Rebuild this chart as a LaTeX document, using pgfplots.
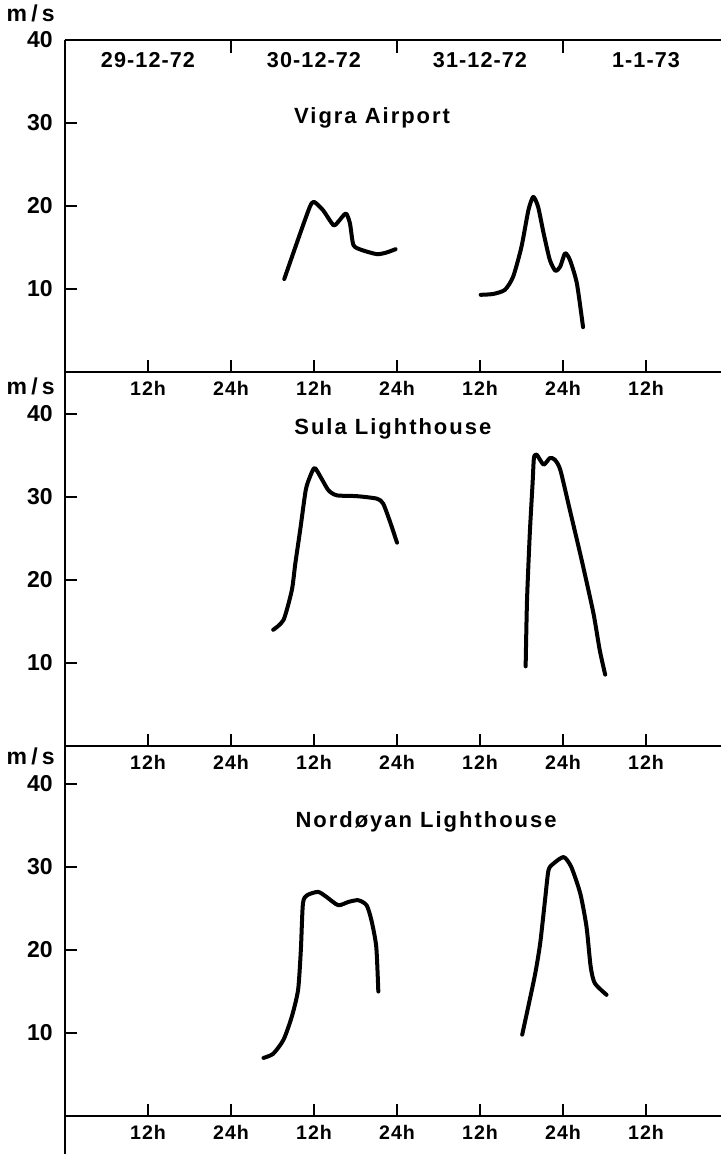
\documentclass[border=0pt]{standalone}
\usepackage{fontspec}
\setmainfont{Liberation Sans}
\newfontfamily\lbl[LetterSpace=9]{Liberation Sans}
\newfontfamily\hlbl[LetterSpace=5]{Liberation Sans}
\newfontfamily\ulbl[LetterSpace=18]{Liberation Sans}
\usepackage{pgfplots}
\pgfplotsset{compat=1.18}

\pgfplotstableread{
h v
31.7 11.2
34.0 16.7
35.4 19.9
36.0 20.5
37.3 19.5
38.8 17.7
39.5 18.1
40.6 19.1
41.2 17.9
41.7 15.3
42.9 14.7
45.1 14.2
46.5 14.4
47.8 14.8
}\vigraA
\pgfplotstableread{
h v
60.1 9.3
61.9 9.4
63.6 9.9
64.8 11.5
66.0 15.1
67.0 19.5
67.7 21.1
68.4 19.9
69.2 16.7
70.1 13.5
70.9 12.2
71.6 12.7
72.3 14.3
73.0 13.5
74.0 10.7
74.9 5.4
}\vigraB
\pgfplotstableread{
h v
30.1 14.0
31.6 15.2
32.8 18.8
33.3 22.0
34.0 26.0
34.8 30.8
35.4 32.4
36.1 33.5
37.1 32.2
38.1 30.8
39.3 30.2
42.2 30.1
45.1 29.8
46.0 29.2
47.0 27.0
48.0 24.5
}\sulaA
\pgfplotstableread{
h v
66.6 9.6
66.8 17.6
67.2 25.6
67.6 31.6
67.8 34.7
68.2 35.1
69.2 33.9
70.1 34.7
70.8 34.5
71.6 33.3
73.0 28.4
74.7 22.4
76.4 16.0
77.3 11.6
78.1 8.6
}\sulaB
\pgfplotstableread{
h v
28.7 7.0
30.1 7.5
31.6 9.2
32.8 12.0
33.7 15.2
34.1 20.0
34.4 25.6
35.0 26.6
36.6 27.0
37.8 26.4
39.5 25.4
41.0 25.8
42.4 26.0
43.6 25.4
44.3 23.6
45.0 20.4
45.3 15.0
}\nordA
\pgfplotstableread{
h v
66.1 9.8
67.9 16.8
68.7 20.8
69.4 26.0
69.9 29.6
70.6 30.4
72.1 31.2
73.2 30.0
74.5 26.8
75.4 22.8
76.0 18.0
76.6 16.0
78.3 14.6
}\nordB

\begin{document}
\begin{tikzpicture}
\pgfplotsset{
  panel/.style={
    x=3.4583pt, y=4.15pt,
    xmin=0, xmax=94.84, ymin=0,
    enlargelimits=false,
    axis x line=bottom, axis y line=left,
    axis line style={-, line width=1.1pt, black},
    tick align=inside,
    major tick length=6pt,
    tick style={line width=1.1pt, black},
    xtick={12,24,36,48,60,72,84},
    xticklabels={12h,24h,12h,24h,12h,24h,12h},
    ytick={10,20,30,40},
    xticklabel style={font=\hlbl\bfseries\fontsize{9.8}{10}\selectfont, inner sep=0pt, anchor=north, yshift=-4.5pt},
    yticklabel style={font=\bfseries\fontsize{11.5}{12}\selectfont, inner sep=0pt, anchor=east, xshift=-6pt},
    /pgf/number format/assume math mode=true,
    clip=false,
    anchor=south west,
  },
  curve/.style={black, line width=2pt, smooth, tension=0.4, no markers, line cap=round, line join=round},
}
\tikzset{
  unit/.style={font=\ulbl\bfseries\fontsize{11.5}{12}\selectfont, anchor=base east, inner sep=0pt, xshift=-5pt},
  station/.style={font=\lbl\bfseries\fontsize{11}{12}\selectfont, anchor=base, inner sep=0pt},
  date/.style={font=\hlbl\bfseries\fontsize{10.8}{12}\selectfont, anchor=base, inner sep=0pt},
}

% Panel 1: Vigra Airport
\begin{axis}[panel, at={(32.5pt,-186pt)}, ymax=40]
\addplot[curve] table[x=h,y=v] {\vigraA};
\addplot[curve] table[x=h,y=v] {\vigraB};
\draw[line width=1.1pt] (axis cs:0,40) -- (axis cs:94.84,40);
\draw[line width=1.1pt] (axis cs:24,40) -- (axis cs:24,38.4);
\draw[line width=1.1pt] (axis cs:48,40) -- (axis cs:48,38.4);
\draw[line width=1.1pt] (axis cs:72,40) -- (axis cs:72,38.4);
\node[date] at (axis cs:12,36.7) {29-12-72};
\node[date] at (axis cs:36,36.7) {30-12-72};
\node[date] at (axis cs:60,36.7) {31-12-72};
\node[date] at (axis cs:84,36.7) {1-1-73};
\node[station] at (axis cs:44.4,29.9) {Vigra Airport};
\node[unit] at (axis cs:0,42.2) {m/s};
\end{axis}

% Panel 2: Sula Lighthouse
\begin{axis}[panel, at={(32.5pt,-373pt)}, ymax=45.06]
\addplot[curve] table[x=h,y=v] {\sulaA};
\addplot[curve] table[x=h,y=v] {\sulaB};
\node[station] at (axis cs:47.4,37.5) {Sula Lighthouse};
\node[unit] at (axis cs:0,42.3) {m/s};
\end{axis}

% Panel 3: Nordoyan Lighthouse
\begin{axis}[panel, at={(32.5pt,-558pt)}, ymax=44.58]
\addplot[curve] table[x=h,y=v] {\nordA};
\addplot[curve] table[x=h,y=v] {\nordB};
\node[station] at (axis cs:52.2,34.8) {Nordøyan Lighthouse};
\node[unit] at (axis cs:0,42.3) {m/s};
\draw[line width=1.1pt] (axis cs:0,0) -- (axis cs:0,-4.58);
\end{axis}

\pgfresetboundingbox
\path[use as bounding box] (0,0) rectangle (360.5pt,-577pt);
\end{tikzpicture}
\end{document}
